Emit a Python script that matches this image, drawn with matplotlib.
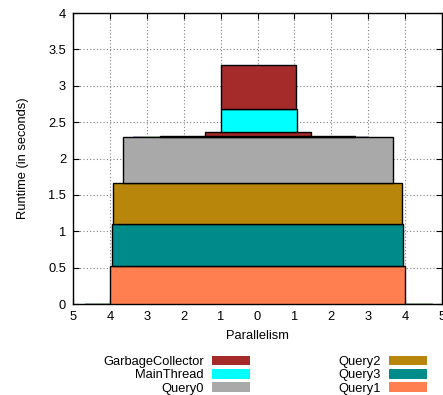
import numpy as np
import matplotlib.pyplot as plt
from matplotlib.patches import Patch

plt.rcParams['font.family'] = ['Liberation Sans', 'DejaVu Sans']
plt.rcParams['font.size'] = 9.3

# stacked runtime blocks, bottom to top: (thread, left edge, right edge, runtime)
block_names = ['Query1', 'Query3', 'Query2', 'Query0', 'Sync',
               'GarbageCollector', 'MainThread', 'GarbageCollector']
block_left = [-4.0, -3.94, -3.91, -3.66, -2.64, -1.42, -1.0, -1.0]
block_right = [4.0, 3.94, 3.91, 3.66, 2.64, 1.44, 1.07, 1.04]
block_runtime = [0.53, 0.565, 0.575, 0.62, 0.025, 0.05, 0.32, 0.60]

# short-lived threads sitting on top of Query0
sliver_left = [-3.38, -3.12, 2.24, 2.69]
sliver_right = [-3.12, -2.64, 2.69, 2.99]
sliver_colors = ['#a0a0c0', '#a8b8a0', '#a8b8a0', '#a0a0c0']

colors = {
    'GarbageCollector': '#a52a2a',
    'MainThread': '#00ffff',
    'Query0': '#a9a9a9',
    'Query2': '#b8860b',
    'Query3': '#008b8b',
    'Query1': '#ff7f50',
    'Sync': '#000000',
}
legend_order = ['GarbageCollector', 'MainThread', 'Query0',
                'Query2', 'Query3', 'Query1']

fig = plt.figure(figsize=(4.43, 3.95), dpi=100)
ax = fig.add_axes([0.165, 0.23, 0.8327, 0.737])

left = np.array(block_left)
right = np.array(block_right)
runtime = np.array(block_runtime)
bottoms = np.concatenate([[0], np.cumsum(runtime)[:-1]])
q0_top = bottoms[4]

# idle threads along the x axis
ax.bar(-4.68, 0.012, width=9.4, bottom=0, align='edge',
       color='#c8d8c8', edgecolor='#a0b0a0', linewidth=0.6, zorder=2)

for name, l, r, h, b in zip(block_names, left, right, runtime, bottoms):
    ax.bar(l, h, width=r - l, bottom=b, align='edge', color=colors[name],
           edgecolor='black', linewidth=1.0, zorder=3)

for l, r, c in zip(sliver_left, sliver_right, sliver_colors):
    ax.bar(l, 0.025, width=r - l, bottom=q0_top, align='edge', color=c,
           edgecolor=c, linewidth=0.5, zorder=2.5)

ax.set_xlim(-5, 5)
ax.set_ylim(0, 4)
xt = np.arange(-5, 6)
ax.set_xticks(xt)
ax.set_xticklabels([str(abs(v)) for v in xt])
yt = np.arange(0, 4.01, 0.5)
ax.set_yticks(yt)
ax.set_yticklabels(['%g' % v for v in yt])
ax.tick_params(direction='in', length=4, top=True, right=True, width=0.8,
               pad=5)
ax.grid(True, linestyle=(0, (1, 2)), color='#808080', linewidth=0.8, zorder=0)
ax.set_axisbelow(True)
for s in ax.spines.values():
    s.set_linewidth(1.0)

ax.set_xlabel('Parallelism', labelpad=5)
ax.set_ylabel('Runtime (in seconds)', labelpad=14)

handles = [Patch(facecolor=colors[n], edgecolor='none') for n in legend_order]
fig.legend(handles, legend_order, loc='upper left', ncol=2,
           bbox_to_anchor=(103 / 443, 1 - 356 / 395), frameon=False,
           markerfirst=False, borderpad=0, borderaxespad=0,
           handlelength=2.95, handleheight=0.75, handletextpad=0.6,
           columnspacing=6.9, labelspacing=0.07)

fig.savefig('out.png', dpi=100)
